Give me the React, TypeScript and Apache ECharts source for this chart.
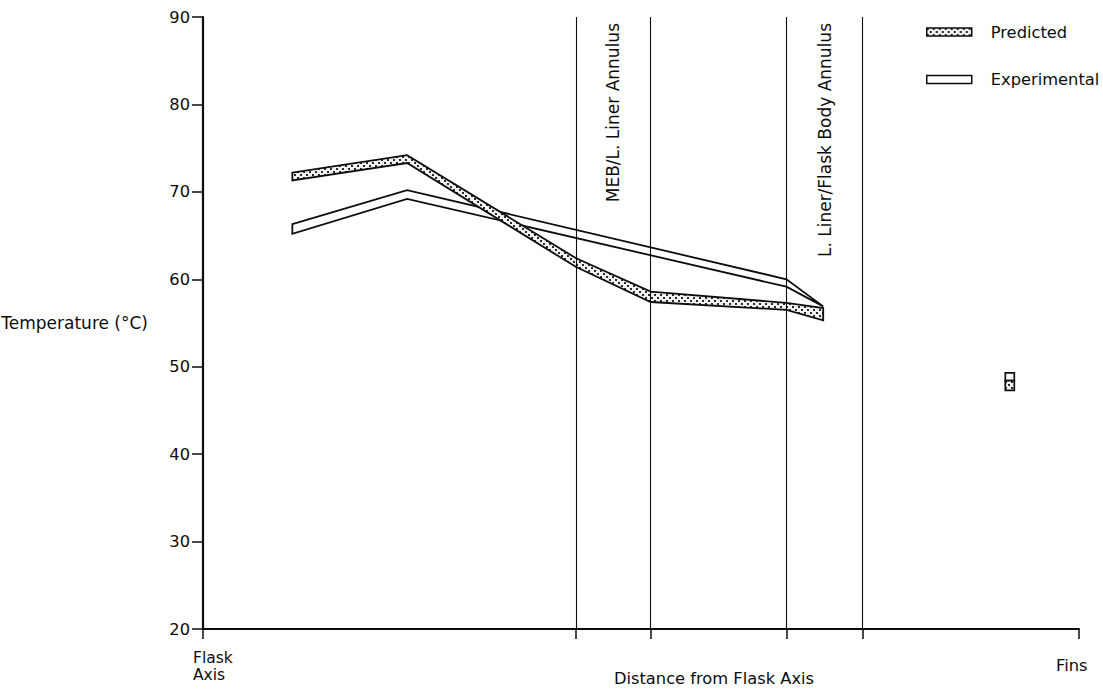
import React, { useEffect, useRef } from 'react';
import * as echarts from 'echarts';

// ---- data ----
const boundaries = [42.6, 51.1, 66.6, 75.3];
const zoneNames = ['MEB/L. Liner Annulus', 'L. Liner/Flask Body Annulus'];
const xEnds = [0, 100];
const xEndLabels = ['Flask\nAxis', 'Fins'];

const predX = [10.2, 23.3, 42.6, 51.1, 66.6, 70.8];
const predUpper = [72.2, 74.2, 62.4, 58.6, 57.3, 56.7];
const predLower = [71.3, 73.3, 61.4, 57.4, 56.5, 55.3];

const expX = [10.2, 23.3, 66.6, 70.8];
const expUpper = [66.3, 70.2, 60.0, 56.9];
const expLower = [65.2, 69.2, 59.15, 56.9];

const finsX = [92.1];
const finsPredUpper = [48.4];
const finsPredLower = [47.3];
const finsExpUpper = [49.3];
const finsExpLower = [48.4];

const FONT = 'DejaVu Sans';
const INK = '#0d0d0d';

function makePattern() {
  const c = document.createElement('canvas');
  c.width = 6;
  c.height = 6;
  const ctx = c.getContext('2d')!;
  ctx.fillStyle = '#f2f2f2';
  ctx.fillRect(0, 0, 6, 6);
  ctx.fillStyle = '#2a2a2a';
  ctx.fillRect(0, 0, 2, 2);
  ctx.fillRect(3, 3, 2, 2);
  return { image: c.toDataURL(), repeat: 'repeat', imageWidth: 6, imageHeight: 6 };
}

function bandRender(xs: number[], lo: number[], up: number[], fill: any) {
  return (params: any, api: any) => {
    if (params.dataIndex !== 0) return null;
    const top = xs.map((x, i) => api.coord([x, up[i]]));
    const bot = xs.map((x, i) => api.coord([x, lo[i]])).reverse();
    return {
      type: 'polygon',
      shape: { points: top.concat(bot) },
      style: { fill, stroke: INK, lineWidth: 1.8, lineJoin: 'miter' },
    };
  };
}

function markerRender(xs: number[], lo: number[], up: number[], fill: any) {
  return (params: any, api: any) => {
    const i = params.dataIndex;
    const a = api.coord([xs[i], up[i]]);
    const b = api.coord([xs[i], lo[i]]);
    return {
      type: 'rect',
      shape: { x: a[0] - 4.5, y: a[1], width: 9, height: b[1] - a[1] },
      style: { fill, stroke: INK, lineWidth: 1.7 },
    };
  };
}

export default function App() {
  const ref = useRef<HTMLDivElement>(null);
  useEffect(() => {
    if (!ref.current) return;
    const chart = echarts.init(ref.current, null, { renderer: 'svg' });
    const pattern = makePattern();
    const toData = (xs: number[], lo: number[], up: number[]) => xs.map((x, i) => [x, lo[i], up[i]]);
    const textBase = { fontFamily: FONT, fontSize: 16.3, color: INK };

    chart.setOption({
      animation: false,
      backgroundColor: '#ffffff',
      textStyle: { fontFamily: FONT },
      grid: { left: 203, right: 24, top: 17, bottom: 66, containLabel: false, outerBoundsMode: 'none' },
      legend: {
        orient: 'vertical',
        left: 926,
        top: 24,
        padding: 0,
        itemWidth: 45,
        itemHeight: 8,
        itemGap: 31.5,
        textStyle: { ...textBase, padding: [0, 0, 0, 14] },
        data: [
          { name: 'Predicted', icon: 'rect', itemStyle: { color: pattern, borderColor: INK, borderWidth: 1.5 } },
          { name: 'Experimental', icon: 'rect', itemStyle: { color: '#ffffff', borderColor: INK, borderWidth: 1.5 } },
        ],
      },
      xAxis: {
        type: 'value',
        min: 0,
        max: 100,
        name: 'Distance from Flask Axis',
        nameLocation: 'middle',
        nameGap: 41,
        nameMoveOverlap: false,
        nameTextStyle: { ...textBase, padding: [0, 0, 0, 146] },
        axisLine: { lineStyle: { color: INK, width: 2.2 } },
        axisTick: { show: true, inside: false, length: 10, lineStyle: { color: INK, width: 1.5 }, customValues: [xEnds[0], ...boundaries, xEnds[1]] },
        axisLabel: {
          ...textBase,
          margin: 20,
          customValues: xEnds,
          formatter: (v: number) => {
            const idx = xEnds.indexOf(v);
            if (idx === 0) return xEndLabels[0].split('\n').map((s) => `{a|${s}}`).join('\n');
            if (idx === 1) return `{b|${xEndLabels[1]}}`;
            return '';
          },
          rich: {
            a: { ...textBase, fontSize: 15.5, width: 20, align: 'left', lineHeight: 17 },
            b: { ...textBase, width: 46, align: 'left', lineHeight: 32 },
          },
        },
        splitLine: { show: false },
      },
      yAxis: {
        type: 'value',
        min: 20,
        max: 90,
        interval: 10,
        name: 'Temperature (°C)',
        nameLocation: 'middle',
        nameRotate: 0,
        nameGap: 55,
        nameMoveOverlap: false,
        nameTextStyle: { ...textBase, fontSize: 17 },
        axisLine: { show: true, lineStyle: { color: INK, width: 2.2 } },
        axisTick: { show: true, inside: false, length: 11, lineStyle: { color: INK, width: 1.5 } },
        axisLabel: { ...textBase, margin: 13 },
        splitLine: { show: false },
      },
      series: [
        {
          name: 'Experimental',
          type: 'custom',
          renderItem: bandRender(expX, expLower, expUpper, '#ffffff'),
          data: toData(expX, expLower, expUpper),
          encode: { x: 0, y: [1, 2] },
          itemStyle: { color: '#ffffff', borderColor: INK },
          z: 2,
          markLine: {
            silent: true,
            symbol: 'none',
            label: { show: false },
            lineStyle: { color: INK, width: 1.1, type: 'solid' },
            data: boundaries.map((b) => ({ xAxis: b })),
          },
          markArea: {
            silent: true,
            itemStyle: { color: 'rgba(0,0,0,0)' },
            label: {
              show: true,
              position: 'insideTop',
              distance: 6,
              rotate: 90,
              align: 'right',
              verticalAlign: 'middle',
              ...textBase,
              fontSize: 17,
            },
            data: [
              [{ xAxis: boundaries[0], name: zoneNames[0] }, { xAxis: boundaries[1] }],
              [{ xAxis: boundaries[2], name: zoneNames[1] }, { xAxis: boundaries[3] }],
            ],
          },
        },
        {
          name: 'Experimental',
          type: 'custom',
          renderItem: markerRender(finsX, finsExpLower, finsExpUpper, '#ffffff'),
          data: toData(finsX, finsExpLower, finsExpUpper),
          encode: { x: 0, y: [1, 2] },
          itemStyle: { color: '#ffffff', borderColor: INK },
          z: 2,
        },
        {
          name: 'Predicted',
          type: 'custom',
          renderItem: bandRender(predX, predLower, predUpper, pattern),
          data: toData(predX, predLower, predUpper),
          encode: { x: 0, y: [1, 2] },
          itemStyle: { color: '#999', borderColor: INK },
          z: 3,
        },
        {
          name: 'Predicted',
          type: 'custom',
          renderItem: markerRender(finsX, finsPredLower, finsPredUpper, pattern),
          data: toData(finsX, finsPredLower, finsPredUpper),
          encode: { x: 0, y: [1, 2] },
          itemStyle: { color: '#999', borderColor: INK },
          z: 3,
        },
      ],
    });
    return () => chart.dispose();
  }, []);
  return <div ref={ref} style={{ position: 'absolute', left: 0, top: 0, width: 1103, height: 695 }} />;
}
